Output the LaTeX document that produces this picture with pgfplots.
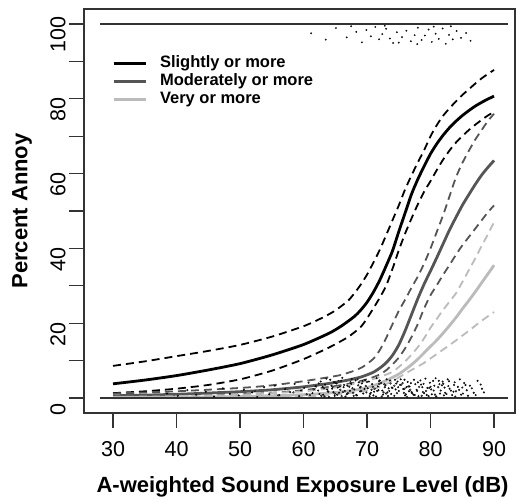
\documentclass[border=0pt]{standalone}
\usepackage{pgfplots}
\pgfplotsset{compat=1.18}
\usepackage{fontspec}
\setmainfont{Liberation Sans}
\definecolor{modc}{HTML}{555555}
\definecolor{verc}{HTML}{BBBBBB}
\definecolor{axc}{HTML}{333333}
\begin{document}
\begin{tikzpicture}
\begin{axis}[
 scale only axis, width=431pt, height=404pt,
 xmin=25.43, xmax=93.3, ymin=-4, ymax=104,
 axis line style={axc, line width=1.3pt},
 xtick={30,40,...,90}, ytick={0,20,...,100}, minor ytick={10,30,...,90},
 xtick pos=bottom, ytick pos=left, tick align=outside,
 major tick length=15pt, minor tick length=15pt,
 every tick/.style={axc, line width=1.3pt},
 every minor tick/.style={axc, line width=1.3pt},
 tick label style={font=\fontsize{21.5}{25}\selectfont},
 /pgf/number format/assume math mode=true,
 xticklabel style={yshift=-10pt},
 yticklabel style={rotate=90, anchor=south, xshift=-11pt},
 xlabel={A-weighted Sound Exposure Level (dB)},
 ylabel={Percent Annoy},
 label style={font=\bfseries\fontsize{22}{26}\selectfont},
 xlabel style={at={(axis description cs:0.507,-0.1832)}, anchor=center},
 ylabel style={at={(axis description cs:-0.1435,0.5)}, anchor=center},
 legend style={at={(axis description cs:0.065,0.885)}, anchor=north west, draw=none, fill=none,
   font=\bfseries\fontsize{16.5}{18}\selectfont, row sep=3pt, column sep=13pt, inner sep=0pt,
   nodes={inner sep=0pt, text height=12pt, text depth=3pt}},
 legend cell align=left,
 legend image code/.code={\draw[#1, line width=2.8pt] (0pt,0pt) -- (32pt,0pt);},
 every axis plot/.append style={no markers},
]
% solid curves
\addplot[black, line width=2.8pt, smooth, tension=0.4] coordinates {
(30,3.8)(35,4.8)(40,6.0)(45,7.5)(50,9.2)(55,11.5)(60,14.3)(64,17.3)(66,19.3)(68,21.8)(69,23.5)(70,25.6)(71,28.3)(72,31.5)(73,35.3)(74,39.3)(75,44.5)(76,49.5)(77,54.5)(78,58.5)(79,62.0)(80,65.3)(81,68.0)(82,70.3)(83,72.3)(84,74.0)(85,75.5)(86,76.8)(87,78.0)(88,79.0)(89,79.9)(90,80.7)};
\addlegendentry{Slightly or more}
\addplot[modc, line width=2.8pt, smooth, tension=0.4] coordinates {
(30,0.6)(40,1.0)(50,1.7)(55,2.2)(60,3.0)(64,3.9)(67,4.8)(69,5.6)(70,6.2)(71,6.9)(72,8.0)(73,9.4)(74,11.4)(75,14.2)(76,18.0)(77,22.3)(78,26.6)(79,30.5)(80,34.0)(81,37.6)(82,41.3)(83,45.0)(84,48.3)(85,51.5)(86,54.3)(87,57.0)(88,59.5)(89,61.6)(90,63.5)};
\addlegendentry{Moderately or more}
\addplot[verc, line width=2.8pt, smooth, tension=0.4] coordinates {
(30,0.1)(40,0.2)(50,0.4)(60,0.9)(65,1.5)(68,2.1)(70,2.8)(72,3.9)(73,4.7)(74,5.5)(75,6.4)(76,7.6)(77,8.9)(78,10.4)(79,12.1)(80,13.8)(81,15.5)(82,17.4)(83,19.4)(84,21.5)(85,23.8)(86,26.0)(87,28.3)(88,30.7)(89,33.1)(90,35.5)};
\addlegendentry{Very or more}
% dashed limits
\addplot[forget plot, black, line width=1.8pt, dash pattern=on 8pt off 5pt, smooth, tension=0.4] coordinates {
(30,8.6)(35,9.8)(40,11.2)(45,12.6)(50,14.2)(55,16.4)(60,19.2)(63,21.5)(65,23.4)(67,26.0)(68,28.0)(69,30.3)(70,33.0)(71,36.2)(72,39.6)(73,43.5)(74,47.5)(75,51.5)(76,55.8)(77,59.5)(78,63.0)(79,66.3)(80,70.0)(81,73.0)(82,75.5)(83,77.5)(84,79.3)(85,81.0)(86,82.5)(87,84.0)(88,85.4)(89,86.6)(90,87.7)};
\addplot[forget plot, black, line width=1.8pt, dash pattern=on 8pt off 5pt, smooth, tension=0.4] coordinates {
(30,1.3)(35,1.8)(40,2.5)(45,3.5)(50,5.0)(55,7.3)(60,10.4)(64,13.5)(67,16.3)(69,19.0)(70,21.3)(71,24.0)(72,26.8)(73,30.0)(74,34.5)(75,39.5)(76,44.0)(77,48.0)(78,51.8)(79,55.2)(80,58.0)(81,61.0)(82,63.8)(83,66.2)(84,68.3)(85,70.0)(86,71.6)(87,73.0)(88,74.3)(89,75.5)(90,76.5)};
\addplot[forget plot, modc, line width=1.8pt, dash pattern=on 8pt off 5pt, smooth, tension=0.4] coordinates {
(30,1.2)(40,1.8)(50,2.7)(55,3.4)(60,4.5)(63,5.3)(65.7,6.1)(68,7.3)(69.4,8.4)(71,10.5)(72,12.8)(73,16.0)(74,19.7)(75,23.3)(76,26.3)(77,29.5)(78,32.5)(79,36.0)(80,40.0)(81,44.5)(82,49.0)(83,54.0)(84,59.0)(85,62.8)(86,66.0)(87,69.0)(88,71.5)(89,74.0)(90,76.0)};
\addplot[forget plot, modc, line width=1.8pt, dash pattern=on 8pt off 5pt, smooth, tension=0.4] coordinates {
(30,0.2)(40,0.5)(50,1.0)(55,1.4)(60,2.1)(65,3.2)(68,4.1)(70.5,5.3)(72,6.3)(73,7.4)(74,9.0)(75,10.8)(76,13.3)(77,16.3)(78,19.8)(79,24.0)(80,27.5)(81,30.2)(82,33.0)(83,35.6)(84,38.3)(85,40.8)(86,43.0)(87,45.2)(88,47.4)(89,49.6)(90,51.5)};
\addplot[forget plot, verc, line width=1.8pt, dash pattern=on 8pt off 5pt, smooth, tension=0.4] coordinates {
(30,0.3)(40,0.5)(50,0.9)(60,1.8)(65,2.8)(68,3.8)(70,4.6)(72,5.6)(74,7.0)(75,8.3)(76,9.8)(77,11.6)(78,13.6)(79,16.0)(80,18.8)(81,21.2)(82,23.6)(83,25.8)(84,28.0)(85,31.0)(86,34.1)(87,37.2)(88,40.5)(89,43.7)(90,47.0)};
\addplot[forget plot, verc, line width=1.8pt, dash pattern=on 8pt off 5pt, smooth, tension=0.4] coordinates {
(30,0.0)(40,0.05)(50,0.1)(60,0.4)(65,0.9)(68,1.5)(70,2.0)(72,3.0)(74,4.6)(75.2,5.7)(77,7.5)(78.9,9.3)(80,10.6)(82.6,13.7)(84,15.4)(86.2,18.2)(88,20.6)(90,23.0)};
% reference lines at 0 and 100
\addplot[forget plot, axc, line width=1.4pt] coordinates {(28,0)(92.2,0)};
\addplot[forget plot, axc, line width=1.4pt] coordinates {(28,100)(92.2,100)};
% jittered responses
\addplot[forget plot, only marks, mark=square*, mark size=0.9pt, draw=none, fill=verc] coordinates {
(60.5,1.0)(61.6,2.3)(62.8,0.6)(63.9,1.7)(64.6,3.0)(65.3,0.9)(65.8,2.2)(66.4,3.5)(67.0,1.3)(67.7,2.6)(68.4,0.7)(69.1,1.9)(69.8,3.2)(70.5,1.1)(71.2,2.5)(71.9,3.8)(72.6,1.5)(73.3,0.5)(74.0,2.7)(74.7,1.3)(75.4,3.6)(76.1,1.0)(76.8,2.2)(77.5,0.8)(78.2,3.0)(58.4,1.5)(56.0,0.7)(52.3,1.9)(67.4,4.2)(70.0,4.3)(72.8,2.9)(75.6,4.0)(62.0,3.1)(64.9,1.2)(68.6,3.4)(71.4,0.4)(73.7,3.9)(76.5,3.1)(79.3,1.9)(80.7,0.9)
(63.2,2.6)(66.0,0.5)(68.9,2.8)(71.6,1.9)(74.3,3.3)(77.0,1.6)(79.8,2.7)(82.5,1.1)(65.5,4.5)(70.9,3.0)(73.0,1.2)(75.9,2.5)(78.6,0.6)(81.2,2.9)(84.0,1.8)};
\addplot[forget plot, only marks, mark=square*, mark size=0.8pt, draw=none, fill=black!45] coordinates {
(59.6,2.0)(61.0,0.8)(62.4,3.9)(63.7,2.3)(64.8,4.3)(66.2,1.6)(67.2,3.0)(68.5,5.0)(69.9,1.5)(70.7,2.2)(71.9,4.5)(72.7,3.7)(73.5,1.9)(74.9,2.9)(75.8,1.4)(76.9,4.0)(77.9,1.9)(78.9,3.8)(79.7,0.5)(80.5,2.0)(81.4,3.7)(82.1,0.7)(82.8,3.2)(83.8,4.2)(84.5,2.2)(85.1,1.2)(85.5,3.5)(86.5,2.6)(87.1,0.8)(87.9,3.6)(88.4,1.5)(63.3,0.4)(65.7,3.1)(67.8,1.4)(69.3,4.5)(72.3,0.4)(74.4,4.9)(76.3,0.3)(78.4,4.7)(80.0,3.0)(81.9,4.4)(83.9,0.4)(85.0,2.8)};
\addplot[forget plot, only marks, mark=square*, mark size=0.8pt, draw=none, fill=black!75] coordinates {
(38.5,1.2)(40.2,0.6)(41.7,2.1)(43.1,0.9)(44.6,1.7)(45.9,0.4)(47.3,2.6)(48.4,1.1)(49.8,0.7)(50.6,2.2)(51.9,1.5)(52.7,0.3)(53.8,2.9)(54.6,1.0)(55.5,3.3)(56.2,0.8)(57.1,2.4)(57.9,1.6)(58.6,3.8)(59.3,0.5)(60.1,2.7)(60.8,4.1)(61.4,1.3)(61.9,3.2)
(62.3,2.0)(62.7,4.4)(63.1,0.9)(63.4,3.6)(63.8,1.8)(64.2,4.9)(64.5,2.5)(64.9,0.6)(65.2,3.9)(65.6,1.4)(65.9,4.6)(66.3,2.9)(66.6,0.4)(66.9,3.3)(67.3,1.9)(67.6,5.1)(68.0,2.3)(68.3,0.8)(68.7,4.2)(69.0,3.0)(69.4,1.2)(69.7,4.8)(70.1,2.6)(70.4,0.5)(70.8,3.7)(71.1,1.7)(71.5,5.3)(71.8,2.1)(72.2,4.0)(72.5,0.9)(72.9,3.4)(73.2,1.5)(73.6,4.7)(73.9,2.8)(74.3,0.6)(74.6,3.9)(75.0,1.9)(75.3,5.0)(75.7,2.4)(76.0,0.7)(76.4,4.3)(76.7,3.1)(77.1,1.3)(77.4,4.9)(77.8,2.2)(78.1,0.5)(78.5,3.6)(78.8,1.6)(79.2,5.2)(79.5,2.7)(79.9,4.1)(80.2,1.0)(80.6,3.3)(80.9,0.4)(81.3,4.6)(81.6,2.0)(82.0,3.8)(82.3,1.4)(82.7,5.0)(83.0,2.5)(83.4,0.8)(83.7,3.5)
(62.5,1.1)(63.0,3.0)(63.6,5.2)(64.0,0.3)(64.7,1.6)(65.4,2.8)(66.1,5.4)(66.8,1.0)(67.5,3.8)(68.2,4.7)(68.9,1.8)(69.6,2.4)(70.3,4.4)(71.0,0.7)(71.7,3.1)(72.4,2.0)(73.1,5.0)(73.8,1.1)(74.5,2.3)(75.2,3.5)(75.9,4.9)(76.6,1.8)(77.3,0.9)(78.0,4.2)(78.7,2.9)(79.4,0.8)(80.1,2.3)(80.8,5.3)(81.5,1.2)(82.2,2.8)(82.9,4.5)(83.6,1.7)(84.3,3.0)(84.8,0.9)(85.3,4.0)(85.7,2.1)(86.2,3.3)(86.8,1.4)(87.4,4.6)(88.1,2.5)
(64.4,3.3)(65.0,4.1)(66.5,1.9)(67.9,0.6)(69.2,3.9)(70.6,1.4)(72.0,4.7)(73.4,2.6)(74.8,4.4)(76.2,2.9)(77.6,3.7)(79.0,1.3)(80.4,4.6)(81.8,3.4)(83.2,2.0)(84.6,5.0)(85.9,0.6)};
\addplot[forget plot, only marks, mark=square*, mark size=0.7pt, draw=none, fill=black!45] coordinates {
(61.2,97.5)(63.5,95.8)(65.1,98.9)(66.8,96.4)(68.3,97.9)(69.2,95.1)(69.9,98.4)(70.6,96.7)(71.3,99.2)(71.9,95.9)(72.4,97.3)(73.0,98.7)(73.6,96.1)(74.1,94.9)(74.7,97.8)(75.5,96.5)(76.2,98.2)(76.9,95.4)(77.5,97.0)(78.0,99.0)(78.6,95.7)(79.1,96.9)(79.7,98.5)(80.2,95.2)(80.8,97.4)(81.3,96.0)(81.9,98.8)(82.4,94.7)(82.9,97.1)(83.5,95.9)(84.1,98.1)(84.8,96.3)(85.6,97.6)(86.3,95.5)(67.5,99.4)(72.8,99.5)(77.9,94.6)(80.5,99.3)(83.2,99.4)(75.0,95.0)};
\end{axis}
\pgfresetboundingbox
\path[use as bounding box] (-84pt,-87pt) rectangle (434pt,413pt);
\end{tikzpicture}
\end{document}
